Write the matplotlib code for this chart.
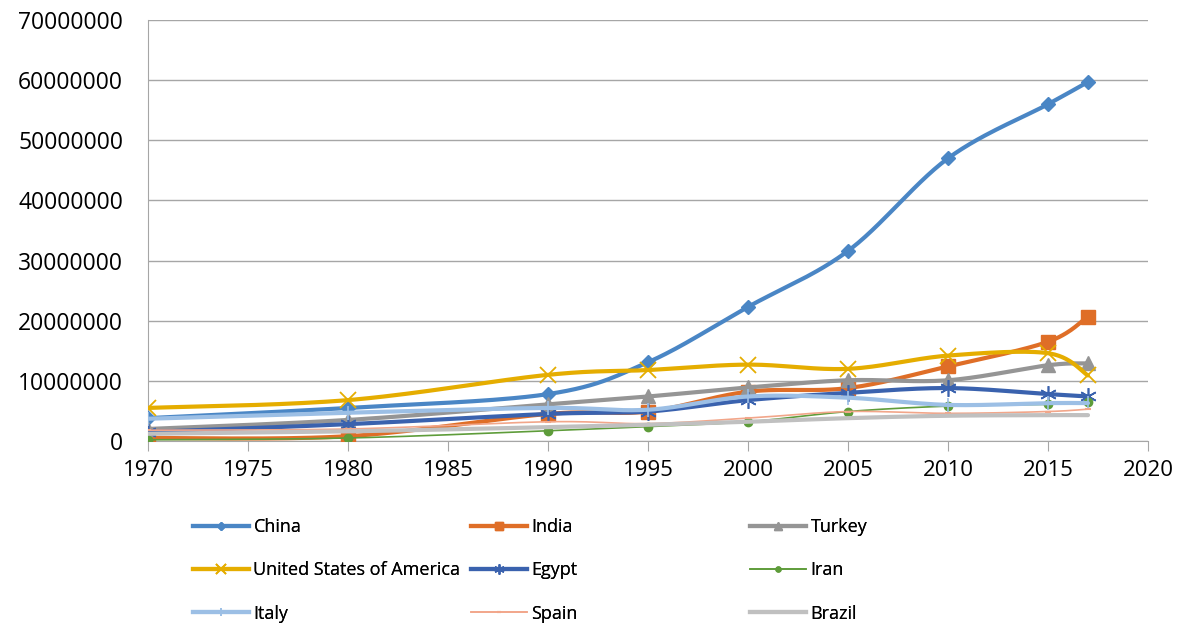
import numpy as np
import matplotlib
matplotlib.use("Agg")
import matplotlib.pyplot as plt
from matplotlib.lines import Line2D

years = [1970, 1980, 1990, 1995, 2000, 2005, 2010, 2015, 2017]

china = [3.8e6, 5.5e6, 7.8e6, 13.1e6, 22.3e6, 31.6e6, 47.0e6, 56.0e6, 59.7e6]
india = [0.5e6, 0.8e6, 4.5e6, 4.9e6, 8.2e6, 8.8e6, 12.4e6, 16.5e6, 20.7e6]
turkey = [2.0e6, 3.5e6, 6.1e6, 7.4e6, 8.9e6, 10.1e6, 10.1e6, 12.6e6, 12.9e6]
usa = [5.5e6, 6.8e6, 11.0e6, 11.8e6, 12.7e6, 12.0e6, 14.2e6, 14.6e6, 10.9e6]
egypt = [1.5e6, 2.8e6, 4.5e6, 4.9e6, 6.8e6, 8.0e6, 8.8e6, 7.8e6, 7.4e6]
iran = [0.2e6, 0.5e6, 1.7e6, 2.4e6, 3.2e6, 4.9e6, 5.8e6, 6.1e6, 6.5e6]
italy = [3.7e6, 4.7e6, 5.5e6, 5.2e6, 7.4e6, 7.2e6, 6.0e6, 6.3e6, 6.3e6]
spain = [1.8e6, 2.0e6, 3.2e6, 2.9e6, 3.8e6, 4.9e6, 4.6e6, 4.9e6, 5.3e6]
brazil = [1.2e6, 1.6e6, 2.3e6, 2.7e6, 3.2e6, 3.8e6, 4.2e6, 4.3e6, 4.3e6]

labels = ["China", "India", "Turkey", "United States of America", "Egypt",
          "Iran", "Italy", "Spain", "Brazil"]
series = [china, india, turkey, usa, egypt, iran, italy, spain, brazil]

# colour, line width, marker, marker size, marker edge width
styles = [
    ("#4a86c5", 3.0, "D", 7, 1),
    ("#df6e27", 3.0, "s", 10, 1),
    ("#959595", 3.0, "^", 10, 1),
    ("#e5ad00", 3.0, "x", 11, 1.3),
    ("#3a62ae", 3.0, (6, 2, 0), 12, 1.2),
    ("#5e9c3a", 1.2, "o", 6, 1),
    ("#9cbfe5", 3.0, "|", 10, 1.2),
    ("#f2a68a", 1.2, "_", 5, 1.5),
    ("#c0c0c0", 3.0, "None", 0, 0),
]

XMIN, XMAX, YMAX = 1970, 2020, 70e6


def smooth(xs, ys, n=30):
    # Bezier smoothing similar to spreadsheet "smoothed line"
    px = (np.asarray(xs, float) - XMIN) / (XMAX - XMIN) * 1000
    py = np.asarray(ys, float) / YMAX * 421
    pts = np.column_stack([px, py])
    out = []
    t = np.linspace(0, 1, n)[:, None]
    for i in range(len(pts) - 1):
        p0 = pts[max(i - 1, 0)]
        p1 = pts[i]
        p2 = pts[i + 1]
        p3 = pts[min(i + 2, len(pts) - 1)]
        c1 = p1 + (p2 - p0) / 6
        c2 = p2 - (p3 - p1) / 6
        seg = ((1 - t) ** 3) * p1 + 3 * ((1 - t) ** 2) * t * c1 + \
            3 * (1 - t) * t ** 2 * c2 + t ** 3 * p2
        out.append(seg if i == 0 else seg[1:])
    out = np.vstack(out)
    return out[:, 0] / 1000 * (XMAX - XMIN) + XMIN, out[:, 1] / 421 * YMAX


fig = plt.figure(figsize=(11.82, 6.26), dpi=100)
plt.rcParams["font.family"] = ["Open Sans", "DejaVu Sans"]
ax = fig.add_axes([148 / 1182, 185 / 626, 1000 / 1182, 421 / 626])

handles = []
for vals, lab, (col, lw, mk, ms, mew) in zip(series, labels, styles):
    sx, sy = smooth(years, vals)
    ax.plot(sx, sy, color=col, lw=lw, solid_capstyle="round", zorder=3)
    if mk != "None":
        ax.plot(years, vals, ls="none", marker=mk, ms=ms, color=col,
                mec=col, mew=mew, zorder=3)
    handles.append(Line2D([], [], color=col, lw=lw, marker=mk,
                          ms=ms * 0.6, mec=col, mew=mew))

ax.set_xlim(XMIN, XMAX)
ax.set_ylim(0, YMAX)
ax.set_xticks(np.arange(1970, 2021, 5))
ax.set_yticks(np.arange(0, 70e6 + 1, 10e6))
ax.set_yticklabels([f"{int(v)}" for v in np.arange(0, 70e6 + 1, 10e6)])
ax.yaxis.grid(True, color="#a6a6a6", lw=1)
ax.set_axisbelow(True)
for s in ["top", "right"]:
    ax.spines[s].set_visible(False)
ax.spines["left"].set_color("#a6a6a6")
ax.spines["bottom"].set_color("#a6a6a6")
ax.tick_params(axis="x", length=7, color="#a6a6a6", labelsize=16, pad=7)
ax.tick_params(axis="y", length=0, labelsize=16.5, pad=18)

# legend: three equal-width columns
cols = [(0, 3, 6), (1, 4, 7), (2, 5, 8)]
xpos = [193, 471, 750]
for xp, idx in zip(xpos, cols):
    leg = fig.legend([handles[i] for i in idx], [labels[i] for i in idx],
                     loc="upper left", bbox_to_anchor=(xp / 1182, 1 - 518 / 626),
                     frameon=False, fontsize=13, handlelength=3.1,
                     handletextpad=0.25, labelspacing=1.4,
                     borderaxespad=0, borderpad=0)
    fig.add_artist(leg)

fig.savefig("out.png", dpi=100)
